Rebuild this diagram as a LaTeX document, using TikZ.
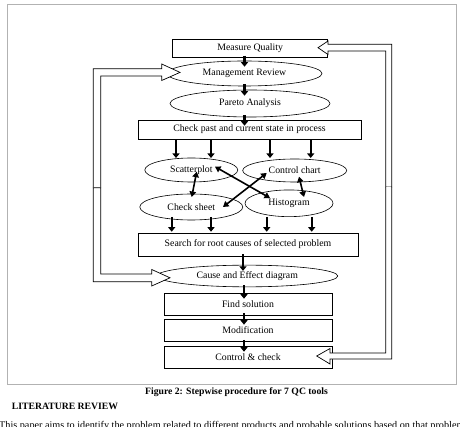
\documentclass[tikz,border=0pt]{standalone}
\usepackage{fontspec}
\setmainfont{Liberation Serif}
\usetikzlibrary{shapes.geometric,arrows.meta,calc}
\begin{document}
\begin{tikzpicture}[x=1pt,y=-1pt,
  box/.style={draw,line width=0.6pt,rectangle,inner sep=0pt,font=\fontsize{9.8}{11}\selectfont},
  oval/.style={draw,line width=0.6pt,ellipse,inner sep=0pt,font=\fontsize{9.8}{11}\selectfont},
  thk/.style={line width=2.3pt,-{Triangle[length=4.5pt,width=7pt]}},
  shortthk/.style={thk,shorten <=-2pt,shorten >=-6pt},
  dbl/.style={line width=1.6pt,{Triangle[length=5.5pt,width=6.5pt]}-{Triangle[length=5.5pt,width=6.5pt]}},
  hollow/.style={draw,line width=0.7pt,fill=white},
  frame/.style={draw=gray!60,line width=0.6pt}]
\useasboundingbox (0,0) rectangle (460,427);
\clip (0,0) rectangle (460,427);
\draw[frame] (7,4.5) rectangle (456.5,384);
% nodes
\node[box,minimum width=155pt,minimum height=18.3pt] (mq) at (250.2,48.2) {Measure Quality};
\node[oval,minimum width=155pt,minimum height=25pt] (mr) at (244.5,73.5) {Management Review};
\node[oval,minimum width=160pt,minimum height=27pt] (pa) at (250,103.5) {Pareto Analysis};
\node[box,minimum width=223pt,minimum height=19pt] (cp) at (249.5,129.5) {Check past and current state in process};
\node[oval,minimum width=93pt,minimum height=24pt] (sp) at (191.3,170) {Scatterplot};
\node[oval,minimum width=104pt,minimum height=23pt] (cc) at (294.7,170.5) {Control chart};
\node[oval,minimum width=103pt,minimum height=26pt] (cs) at (191.3,207) {Check sheet};
\node[oval,minimum width=88pt,minimum height=26.7pt] (hi) at (289,203.3) {Histogram};
\node[box,minimum width=220pt,minimum height=23pt] (sr) at (248,244.5) {Search for root causes of selected problem};
\node[oval,minimum width=181pt,minimum height=21.7pt] (ce) at (247.3,276) {Cause and Effect diagram};
\node[box,minimum width=168pt,minimum height=22pt] (fs) at (248,304) {Find solution};
\node[box,minimum width=168pt,minimum height=22.7pt] (mo) at (248,330.3) {Modification};
\node[box,minimum width=168pt,minimum height=22pt] (ch) at (248,357) {Control \& check};
% vertical flow
\draw[shortthk] (mq.south -| mr.north) -- (mr.north);
\draw[shortthk] (mr.south) -- (mr.south |- pa.north);
\draw[shortthk] (pa.south -| mr.south) -- (mr.south |- cp.north);
\draw[shortthk] (sr.south -| 243,0) -- (243,0 |- ce.north);
\draw[shortthk] (ce.south -| 244,0) -- (244,0 |- fs.north);
\draw[shortthk] (fs.south -| 244,0) -- (244,0 |- mo.north);
\draw[shortthk] (mo.south -| 244,0) -- (244,0 |- ch.north);
% fan out / fan in
\foreach \xx in {176,211,270,310.7}{
  \draw[thk] (cp.south -| \xx,0) -- (\xx,158);}
\foreach \xx in {171.7,211,266.7,311.7}{
  \draw[thk] (\xx,217) -- ([yshift=1pt]sr.north -| \xx,0);}
% double arrows
\coordinate (a1) at (196.7,171.7); \coordinate (a2) at (191.7,197);
\coordinate (b1) at (299,176.7);   \coordinate (b2) at (304,197);
\coordinate (c1) at (215,166.7);   \coordinate (c2) at (270,198);
\coordinate (d1) at (266.7,173);   \coordinate (d2) at (223,207);
\draw[dbl] (a1) -- (a2);
\draw[dbl] (b1) -- (b2);
\draw[dbl] (c1) -- (c2);
\draw[dbl] (d1) -- (d2);
% hollow loop arrows, left
\draw[hollow] (93.3,187.7) -- (93.3,68.8) -- (161.7,68.8) -- (161.7,64) -- (180,72.4) -- (161.7,80.5) -- (161.7,76) -- (100.7,76) -- (100.7,187.7);
\draw[hollow] (93.3,187.7) -- (93.3,281.7) -- (151.7,281.7) -- (151.7,286) -- (170,277.8) -- (151.7,269.5) -- (151.7,274) -- (100.7,274) -- (100.7,187.7) -- cycle;
% hollow loop arrows, right
\draw[hollow] (385.7,187) -- (385.7,51) -- (328,51) -- (328,54.5) -- (318,47.7) -- (328,41) -- (328,44.3) -- (391.7,44.3) -- (391.7,187) -- cycle;
\draw[hollow] (385.7,187) -- (385.7,353) -- (330,353) -- (330,348.5) -- (316.7,356) -- (330,364) -- (330,359) -- (391.7,359) -- (391.7,187);
% caption and text
\node[font=\fontsize{9.7}{11}\selectfont\bfseries] (cap) at (236.5,392) {Figure 2: Stepwise procedure for 7 QC tools};
\node[font=\fontsize{9.7}{11}\selectfont\bfseries,anchor=west,inner sep=0pt] (lit) at (11.7,406) {LITERATURE REVIEW};
\node[font=\fontsize{10.2}{12}\selectfont,anchor=base west,inner sep=0pt] (body) at (-1,428) {This paper aims to identify the problem related to different products and probable solutions based on that problem};
\end{tikzpicture}
\end{document}
